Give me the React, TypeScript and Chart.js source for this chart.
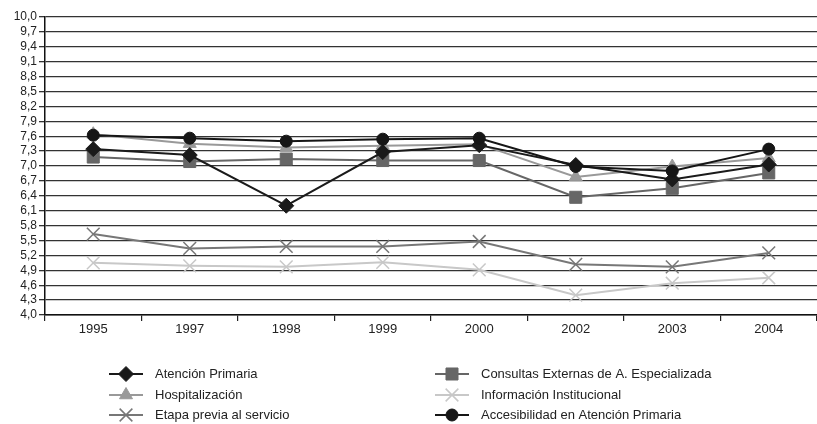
import React, { useEffect, useRef } from "react";
import { Chart, registerables } from "chart.js";
import { drawPoint } from "chart.js/helpers";

Chart.register(...registerables);

const categories = ["1995", "1997", "1998", "1999", "2000", "2002", "2003", "2004"];

const atencionPrimaria = [7.34, 7.22, 6.2, 7.28, 7.42, 7.02, 6.73, 7.03];
const consultasExternas = [7.18, 7.09, 7.14, 7.11, 7.11, 6.37, 6.55, 6.86];
const hospitalizacion = [7.64, 7.45, 7.37, 7.41, 7.44, 6.78, 6.99, 7.16];
const informacionInstitucional = [5.05, 4.99, 4.97, 5.06, 4.91, 4.4, 4.64, 4.75];
const etapaPrevia = [5.63, 5.34, 5.38, 5.38, 5.48, 5.02, 4.97, 5.25];
const accesibilidadAP = [7.62, 7.56, 7.5, 7.54, 7.56, 6.99, 6.9, 7.34];

const seriesNames = [
  "Atención Primaria",
  "Consultas Externas de A. Especializada",
  "Hospitalización",
  "Información Institucional",
  "Etapa previa al servicio",
  "Accesibilidad en Atención Primaria",
];

const FONT = "'Liberation Sans', Arial, sans-serif";

const legendPlugin = {
  id: "twoColLegend",
  afterDraw(chart: any) {
    const ctx = chart.ctx;
    const layout = [
      { idx: 0, col: 0, row: 0 },
      { idx: 2, col: 0, row: 1 },
      { idx: 4, col: 0, row: 2 },
      { idx: 1, col: 1, row: 0 },
      { idx: 3, col: 1, row: 1 },
      { idx: 5, col: 1, row: 2 },
    ];
    const colX = [109, 435];
    const rowY = [374, 395, 415];
    ctx.save();
    layout.forEach(({ idx, col, row }) => {
      const ds = chart.data.datasets[idx];
      const x0 = colX[col];
      const y = rowY[row];
      ctx.strokeStyle = ds.borderColor;
      ctx.lineWidth = 2;
      ctx.beginPath();
      ctx.moveTo(x0, y);
      ctx.lineTo(x0 + 34, y);
      ctx.stroke();
      ctx.fillStyle = ds.pointBackgroundColor;
      ctx.strokeStyle = ds.pointBorderColor;
      ctx.lineWidth = ds.pointBorderWidth;
      drawPoint(ctx, { pointStyle: ds.pointStyle, radius: ds.pointRadius, borderWidth: ds.pointBorderWidth, rotation: 0 }, x0 + 17, y);
      ctx.fillStyle = "#222";
      ctx.font = `13px ${FONT}`;
      ctx.textBaseline = "middle";
      ctx.textAlign = "left";
      ctx.fillText(ds.label, x0 + 46, y);
    });
    ctx.restore();
  },
};

function makeDs(label: string, data: number[], color: string, style: string, radius: number, order: number) {
  const isCross = style === "crossRot";
  return {
    label,
    data,
    borderColor: color,
    borderWidth: 2,
    pointStyle: style,
    pointRadius: radius,
    pointBackgroundColor: color,
    pointBorderColor: color,
    pointBorderWidth: isCross ? 1.5 : 1,
    tension: 0,
    fill: false,
    clip: false,
    order,
  };
}

export default function App() {
  const ref = useRef<HTMLCanvasElement>(null);
  useEffect(() => {
    if (!ref.current) return;
    const chart = new Chart(ref.current, {
      type: "line",
      data: {
        labels: categories,
        datasets: [
          makeDs(seriesNames[0], atencionPrimaria, "#1a1a1a", "rectRot", 7.5, 1),
          makeDs(seriesNames[1], consultasExternas, "#666666", "rect", 8.5, 3),
          makeDs(seriesNames[2], hospitalizacion, "#999999", "triangle", 7.5, 2),
          makeDs(seriesNames[3], informacionInstitucional, "#c8c8c8", "crossRot", 9, 5),
          makeDs(seriesNames[4], etapaPrevia, "#777777", "crossRot", 9, 4),
          makeDs(seriesNames[5], accesibilidadAP, "#161616", "circle", 6, 0),
        ],
      },
      options: {
        responsive: false,
        animation: false,
        layout: { autoPadding: false, padding: { top: 17, right: 0, left: 0, bottom: 0 } },
        plugins: {
          legend: { display: false },
          tooltip: { enabled: false },
        },
        scales: {
          x: {
            offset: true,
            grid: {
              offset: true,
              drawOnChartArea: false,
              drawTicks: true,
              tickLength: 6,
              color: "#222",
              lineWidth: 1.2,
            },
            border: { color: "#111", width: 1.5 },
            ticks: {
              color: "#222",
              font: { family: FONT, size: 13 },
              padding: 1,
              maxRotation: 0,
            },
            afterFit(scale: any) {
              scale.height = 424 - 315;
              scale.paddingLeft = 0;
              scale.paddingRight = 0;
            },
          },
          y: {
            min: 4,
            max: 10,
            grid: {
              color: "#333",
              lineWidth: 1.3,
              tickLength: 6,
            },
            border: { color: "#111", width: 1.5 },
            ticks: {
              stepSize: 0.3,
              autoSkip: false,
              color: "#222",
              font: { family: FONT, size: 12 },
              padding: 2,
              callback: (v: any) => Number(v).toFixed(1).replace(".", ","),
            },
            afterFit(scale: any) {
              scale.width = 45;
              scale.paddingTop = 0;
              scale.paddingBottom = 0;
            },
          },
        },
      },
      plugins: [legendPlugin],
    } as any);
    return () => chart.destroy();
  }, []);
  return (
    <div style={{ position: "fixed", left: 0, top: 0, width: 817, height: 424, background: "#fff" }}>
      <canvas ref={ref} width={817} height={424} style={{ width: 817, height: 424 }} />
    </div>
  );
}
